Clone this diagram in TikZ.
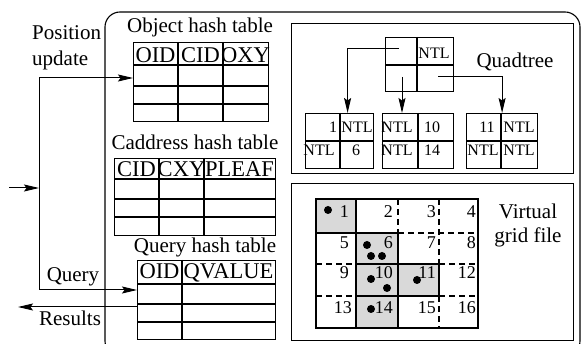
\documentclass[tikz,border=0pt]{standalone}
\usepackage{fontspec}
\setmainfont{Liberation Serif}
\usetikzlibrary{arrows.meta,calc}
\begin{document}
\begin{tikzpicture}[x=1pt,y=-1pt,
  lbl/.style={font=\fontsize{21}{21}\selectfont, inner sep=0pt, anchor=base},
  hdr/.style={font=\fontsize{22.5}{22.5}\selectfont, inner sep=0pt, anchor=base},
  qt/.style={font=\fontsize{16}{16}\selectfont, inner sep=0pt, anchor=base},
  num/.style={font=\fontsize{18}{18}\selectfont, inner sep=0pt, anchor=base east},
  tbl/.style={draw, line width=1.3pt, inner sep=0pt, anchor=north west},
  tline/.style={line width=1.3pt},
  box/.style={draw, line width=1.1pt, inner sep=0pt, anchor=north west},
  arr/.style={line width=1pt, -{Stealth[length=15pt,width=7pt,inset=2.5pt]}},
  plain/.style={line width=1pt},
  dsh/.style={line width=1.1pt, dash pattern=on 6pt off 4pt},
  shade/.style={fill=gray!30},
  dot/.style={circle, fill=black, inner sep=0pt, minimum size=8pt},
]
\useasboundingbox (0,0) rectangle (581,344);

% outer rounded frame
\draw[line width=1.1pt, rounded corners=15pt] (105,12) rectangle (580,356);

% ---------- left: hash tables ----------
\node[lbl] (tobj) at (200,33) {Object hash table};
\node[tbl, minimum width=135pt, minimum height=79pt] (oht) at (133,42) {};
\foreach \x in {178,223} \draw[tline] (\x,42) -- (\x,121);
\foreach \y in {65,86,104} \draw[tline] (133,\y) -- (268,\y);
\node[hdr] (h1) at (155.5,62.5) {OID};
\node[hdr] (h2) at (200.5,62.5) {CID};
\node[hdr] (h3) at (245.5,62.5) {OXY};

\node[lbl] (tcad) at (195,150) {Caddress hash table};
\node[tbl, minimum width=161pt, minimum height=77pt] (cht) at (114,158) {};
\foreach \x in {159,204} \draw[tline] (\x,158) -- (\x,235);
\foreach \y in {179,199,217} \draw[tline] (114,\y) -- (275,\y);
\node[hdr] (h4) at (136.5,176.5) {CID};
\node[hdr] (h5) at (181.5,176.5) {CXY};
\node[hdr] (h6) at (239.5,176.5) {PLEAF};

\node[lbl] (tqry) at (205,253) {Query hash table};
\node[tbl, minimum width=138pt, minimum height=79pt] (qht) at (137,260) {};
\draw[tline] (182,260) -- (182,339);
\foreach \y in {284,304,322} \draw[tline] (137,\y) -- (275,\y);
\node[hdr] (h7) at (159.5,278.5) {OID};
\node[hdr] (h8) at (228.5,278.5) {QVALUE};

% ---------- left: connectors ----------
\node[lbl, anchor=base west] (lpos) at (32,39.5) {Position};
\node[lbl, anchor=base west] (lupd) at (32,66) {update};
\node[lbl] (lq) at (73,282) {Query};
\node[lbl] (lr) at (70,326) {Results};
\coordinate (j1) at (39,78);
\coordinate (j2) at (39,290);
\coordinate (inp) at (9,188);
\coordinate (jin) at (39,188);
\coordinate (res) at (18,307);
\draw[plain] (j1) -- (j2);
\draw[arr] (j1) -- (oht.west |- j1);
\draw[arr] (j2) -- (qht.west |- j2);
\draw[arr] (inp) -- (jin);
\draw[arr] (qht.west |- res) -- (res);

% ---------- quadtree ----------
\node[box, minimum width=282pt, minimum height=150pt] (qbox) at (291,23) {};
\node[lbl] (lqt) at (515,68) {Quadtree};
\node[box, line width=1.2pt, minimum width=68pt, minimum height=54pt] (root) at (385,37) {};
\draw[line width=1.2pt] (417,37) -- (417,91);
\draw[line width=1.2pt] (385,65) -- (453,65);
\node[qt] (rn) at (434,59) {NTL};

\node[box, line width=1.2pt, minimum width=68pt, minimum height=55pt] (c1) at (305,113) {};
\draw[line width=1.2pt] (340,113) -- (340,168);
\draw[line width=1.2pt] (305,141) -- (373,141);
\node[box, line width=1.2pt, minimum width=71pt, minimum height=55pt] (c2) at (382,113) {};
\draw[line width=1.2pt] (418,113) -- (418,168);
\draw[line width=1.2pt] (382,141) -- (453,141);
\node[box, line width=1.2pt, minimum width=71pt, minimum height=55pt] (c3) at (466,113) {};
\draw[line width=1.2pt] (501,113) -- (501,168);
\draw[line width=1.2pt] (466,141) -- (537,141);

\node[qt] at (333,133) {1};
\node[qt] at (357,133) {NTL};
\node[qt] at (319,155.5) {NTL};
\node[qt] at (356,155.5) {6};
\node[qt] at (397,133) {NTL};
\node[qt] at (432,133) {10};
\node[qt] at (397,155.5) {NTL};
\node[qt] at (432,155.5) {14};
\node[qt] at (487,133) {11};
\node[qt] at (519,133) {NTL};
\node[qt] at (483,155.5) {NTL};
\node[qt] at (519,155.5) {NTL};

\coordinate (p1) at (399,49);
\coordinate (p2) at (402,77);
\coordinate (p3) at (438,77);
\draw[arr] (p1) -| ([xshift=8pt]c1.north);
\draw[arr] (p2) -- (p2 |- c2.north);
\draw[arr] (p3) -| (c3.north);

% ---------- virtual grid file ----------
\node[box, minimum width=282pt, minimum height=157pt] (gbox) at (291,183) {};
\node[lbl] (lv1) at (528,219) {Virtual};
\node[lbl] (lv2) at (528,243) {grid file};

\fill[shade] (316,199) rectangle (356,233);
\fill[shade] (356,233) rectangle (398,328);
\fill[shade] (398,264) rectangle (439,296);

\draw[dsh] (398,199) -- (398,233);
\draw[dsh] (439,199) -- (439,264);
\draw[dsh] (439,296) -- (439,328);
\draw[dsh] (398,233) -- (478,233);
\draw[dsh] (316,264) -- (356,264);
\draw[dsh] (439,264) -- (478,264);
\draw[dsh] (316,296) -- (356,296);
\draw[dsh] (439,296) -- (478,296);

\draw[tline] (316,199) rectangle (478,328);
\draw[tline] (356,199) -- (356,328);
\draw[tline] (398,233) -- (398,328);
\draw[tline] (439,264) -- (439,296);
\draw[tline] (316,233) -- (398,233);
\draw[tline] (356,264) -- (439,264);
\draw[tline] (356,296) -- (439,296);

\foreach \p in {(328,210),(367,245),(371,256),(382,256),(371,279),(387,288),(417,280),(371,309)}
  \node[dot] at \p {};

\foreach \n/\x/\y in {1/349/218,2/393/218,3/436/218,4/476/218,
                       5/349/249,6/393/249,7/436/249,8/476/249,
                       9/349/279,10/393/279,11/436/279,12/476/279,
                       13/352/314,14/393/314,15/436/314,16/476/314}
  \node[num] at (\x,\y) {\n};
\end{tikzpicture}
\end{document}
